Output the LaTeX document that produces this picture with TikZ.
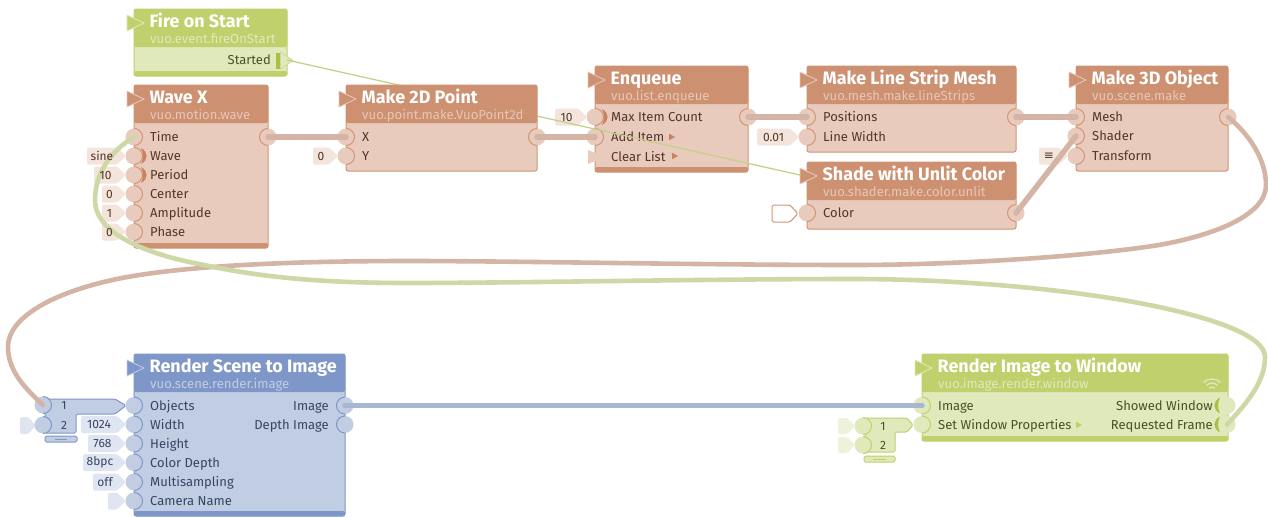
\documentclass[tikz,border=0pt]{standalone}
\usepackage{fontspec}
\setmainfont{Fira Sans}
\newfontfamily\symfont{DejaVu Sans}
\pgfdeclarelayer{front}
\pgfsetlayers{main,front}
\definecolor{brownH}{HTML}{CD9071}\definecolor{brownB}{HTML}{E8CBBC}\definecolor{brownE}{HTML}{D29476}
\definecolor{brownT}{HTML}{553527}\definecolor{brownC}{HTML}{E6C7B6}\definecolor{brownL}{HTML}{F3E4DC}
\definecolor{brownW}{HTML}{D4B4A4}\definecolor{brownD}{HTML}{C9825F}
\definecolor{greenH}{HTML}{C0D06C}\definecolor{greenB}{HTML}{E0E9BB}\definecolor{greenE}{HTML}{BFD06A}
\definecolor{greenT}{HTML}{475225}\definecolor{greenC}{HTML}{E0E9BB}\definecolor{greenL}{HTML}{EDF2DA}
\definecolor{greenW}{HTML}{CDD8A6}\definecolor{greenD}{HTML}{A9C040}
\definecolor{blueH}{HTML}{7F97C8}\definecolor{blueB}{HTML}{C1CDE3}\definecolor{blueE}{HTML}{7F97C8}
\definecolor{blueT}{HTML}{374563}\definecolor{blueC}{HTML}{C1CDE3}\definecolor{blueL}{HTML}{E0E6F1}
\definecolor{blueW}{HTML}{A9B6D2}\definecolor{blueD}{HTML}{7F97C8}
\tikzset{
  vbody/.style={rectangle,rounded corners=2pt,line width=1pt,inner sep=0pt,outer sep=0pt},
  vtitle/.style={anchor=base west,inner sep=0pt,text=white,font=\fontsize{17.95}{18}\selectfont\bfseries},
  vclass/.style={anchor=base west,inner sep=0pt,font=\fontsize{13.1}{14}\selectfont},
  vlabel/.style={inner sep=0pt,font=\fontsize{13}{14}\selectfont},
  vconst/.style={inner sep=0pt,font=\fontsize{12}{12}\selectfont},
  vport/.style={circle,minimum size=17pt,inner sep=0pt,outer sep=0pt},
  wire/.style={line width=5.5pt,line cap=round},
  longwire/.style={line width=4.6pt,line cap=round},
  thinwire/.style={line width=1.2pt,line cap=round},
}
% name x y w h theme title class
\newcommand\vnode[8]{%
  \node[vbody,draw=#6E,fill=#6B,minimum width=#4pt,minimum height=#5pt,anchor=north west] (#1) at (#2,#3) {};
  \fill[#6H,rounded corners=2pt] (#2,{#3+38}) -- (#2,#3) -- ({#2+#4},#3) -- ({#2+#4},{#3+38}) -- cycle;
  \draw[fill=#6H,draw=#6B,line width=.8pt] ({#2-7},{#3+6}) -- ({#2+10},{#3+14}) -- ({#2-7},{#3+22}) -- cycle;
  \node[vtitle] (#1-title) at ({#2+15.5},{#3+18}) {#7};
  \node[vclass,text=#6C] (#1-class) at ({#2+16},{#3+34}) {#8};
}
% name x y w h theme : bottom band
\newcommand\vband[6]{%
  \fill[#6H,rounded corners=2pt] (#2,{#3+#5-5}) -- (#2,{#3+#5}) -- ({#2+#4},{#3+#5}) -- ({#2+#4},{#3+#5-5}) -- cycle;
}
% name x y theme label
\newcommand\inport[5]{%
  \node[vport,fill=#4B] (#1) at (#2,#3) {};
  \draw[#4E,line width=1pt] (#1.south) arc[start angle=-90,end angle=90,radius=8.5pt];
  \node[vlabel,anchor=base west,text=#4T] (#1-label) at ({#2+16},{#3+4.8}) {#5};
}
\newcommand\outport[5]{%
  \node[vport,fill=#4B] (#1) at (#2,#3) {};
  \draw[#4E,line width=1pt] (#1.south) arc[start angle=270,end angle=90,radius=8.5pt];
  \node[vlabel,anchor=base east,text=#4T] (#1-label) at ({#2-16},{#3+4.8}) {#5};
}
% free input port for drawers
\newcommand\drawerport[4]{%
  \node[vport,fill=#4B] (#1) at (#2,#3) {};
  \draw[#4E,line width=1pt] (#1.south) arc[start angle=-90,end angle=90,radius=8.5pt];
}
% name px py theme left value
\newcommand\vconstant[6]{%
  \fill[#4L,rounded corners=1.5pt] (#5,{#3-8.5}) -- ({#2-17},{#3-8.5}) -- ({#2-8},#3) -- ({#2-17},{#3+8.5}) -- (#5,{#3+8.5}) -- cycle;
  \begin{pgfonlayer}{front}
  \node[vconst,text=#4T] (#1-value) at ({(#5+#2-17)/2},#3) {#6};
  \end{pgfonlayer}
}
% crescent: port, colour, dir
\newcommand\crescent[3]{%
  \fill[#2] ([xshift=#3*7pt,yshift=8pt]#1.center) .. controls ([xshift=#3*14.5pt,yshift=4pt]#1.center) and ([xshift=#3*14.5pt,yshift=-4pt]#1.center) .. ([xshift=#3*7pt,yshift=-8pt]#1.center) .. controls ([xshift=#3*9.5pt,yshift=-4pt]#1.center) and ([xshift=#3*9.5pt,yshift=4pt]#1.center) .. cycle;
}
% small event triangle
\newcommand\evtri[3]{\fill[#3] (#1,{#2-3.3}) -- ({#1+6},#2) -- (#1,{#2+3.3}) -- cycle;}
\begin{document}
\begin{tikzpicture}[x=1pt,y=-1pt]
\useasboundingbox (0,0) rectangle (1268,517);
\fill[white] (0,0) rectangle (1268,517);

% ---------- Enqueue, Make Line Strip, Shade, Make 3D (under the thin wire)
\vnode{enq}{595}{66}{153}{106}{brown}{Enqueue}{vuo.list.enqueue}
\vband{enq}{595}{66}{153}{106}{brown}
\vconstant{enqmax}{595}{117}{brown}{555}{10}
\inport{enqmax}{595}{117}{brown}{Max Item Count}
\crescent{enqmax}{brownD}{1}
\inport{enqadd}{595}{137}{brown}{Add Item}
\evtri{669}{137}{brownD}
\fill[brownB] (588,150) -- (605,157) -- (588,164) -- cycle;
\node[vlabel,anchor=base west,text=brownT] (enqclear) at (611,161) {Clear List};
\evtri{672}{156}{brownD}
\outport{enqout}{748}{117}{brown}{}

\vnode{mesh}{807}{66}{209}{86}{brown}{Make Line Strip Mesh}{vuo.mesh.make.lineStrips}
\inport{meshpos}{807}{117}{brown}{Positions}
\vconstant{meshw}{807}{137}{brown}{757}{0.01}
\inport{meshw}{807}{137}{brown}{Line Width}
\outport{meshout}{1016}{117}{brown}{}

\vnode{shade}{807}{162}{209}{67}{brown}{Shade with Unlit Color}{vuo.shader.make.color.unlit}
\draw[brownE,fill=white,line width=1pt,rounded corners=1.5pt] (772,205) -- (790,205) -- (798,213.5) -- (790,222) -- (772,222) -- cycle;
\inport{shadecol}{807}{213}{brown}{Color}
\outport{shadeout}{1016}{213}{brown}{}

\vnode{obj}{1076}{66}{152}{105}{brown}{Make 3D Object}{vuo.scene.make}
\inport{objmesh}{1076}{117}{brown}{Mesh}
\inport{objshader}{1076}{136}{brown}{Shader}
\vconstant{objtrans}{1076}{156}{brown}{1039}{\symfont ≡}
\inport{objtrans}{1076}{156}{brown}{Transform}
\outport{objout}{1228}{117}{brown}{}

% ---------- Fire on Start
\vnode{fire}{134}{9}{153}{67}{green}{Fire on Start}{vuo.event.fireOnStart}
\vband{fire}{134}{9}{153}{67}{green}
\node[vlabel,anchor=base east,text=greenT] (firelabel) at (271,64.5) {Started};
\fill[greenD] (276,53) rectangle (279.5,69);
\draw[fill=greenB,draw=greenW,line width=.8pt] (280.5,52) -- (293,60.5) -- (280.5,69) -- cycle;
\coordinate (started) at (287,60);
\coordinate (shaderefresh) at (800,175);

% thin event wire, then the node that hides it
\draw[thinwire,color=greenW!70!greenD] (started) -- (shaderefresh);

% ---------- Make 2D Point
\vnode{pt}{346}{85}{191}{86}{brown}{Make 2D Point}{vuo.point.make.VuoPoint2d}
\inport{ptx}{346}{137}{brown}{X}
\vconstant{pty}{346}{156}{brown}{313}{0}
\inport{pty}{346}{156}{brown}{Y}
\outport{ptout}{537}{137}{brown}{}
\draw[thinwire,color=greenW!70!greenD,opacity=.12] (started) -- (shaderefresh);

% ---------- Wave X
\vnode{wave}{134}{85}{134}{163}{brown}{Wave X}{vuo.motion.wave}
\vband{wave}{134}{85}{134}{163}{brown}
\inport{wavetime}{134}{137}{brown}{Time}
\vconstant{wavewave}{134}{156}{brown}{87}{sine}
\inport{wavewave}{134}{156}{brown}{Wave}
\crescent{wavewave}{brownD}{1}
\vconstant{waveper}{134}{175}{brown}{94}{10}
\inport{waveper}{134}{175}{brown}{Period}
\crescent{waveper}{brownD}{1}
\vconstant{wavecen}{134}{194}{brown}{102}{0}
\inport{wavecen}{134}{194}{brown}{Center}
\vconstant{waveamp}{134}{213}{brown}{102}{1}
\inport{waveamp}{134}{213}{brown}{Amplitude}
\vconstant{wavepha}{134}{232}{brown}{102}{0}
\inport{wavepha}{134}{232}{brown}{Phase}
\outport{waveout}{268}{137}{brown}{}

% ---------- Render Scene to Image
\vnode{scene}{134}{354}{211}{162}{blue}{Render Scene to Image}{vuo.scene.render.image}
\vband{scene}{134}{354}{211}{162}{blue}
\draw[blueE,fill=blueB,line width=1pt,rounded corners=1.5pt] (45,399) -- (115,399) -- (126,405.5) -- (115,414) -- (76,414) -- (76,433) -- (45,433) -- cycle;
\draw[blueE,fill=blueB,line width=1pt,rounded corners=1.5pt] (45,436) -- (77,436) -- (77,442) -- (45,442) -- cycle;
\draw[blueE,line width=.5pt] (55,439) -- (67,439);
\fill[blueL,rounded corners=1.5pt] (20,417) -- (28,417) -- (36,425.5) -- (28,434) -- (20,434) -- cycle;
\drawerport{scobj1}{43}{405}{blue}
\drawerport{scobj2}{43}{425}{blue}
\node[vconst,text=blueT] (scn1) at (64,405) {1};
\node[vconst,text=blueT] (scn2) at (64,425) {2};
\inport{scobj}{134}{405.5}{blue}{Objects}
\vconstant{scw}{134}{424.5}{blue}{81}{1024}
\inport{scw}{134}{424.5}{blue}{Width}
\vconstant{sch}{134}{443.5}{blue}{88}{768}
\inport{sch}{134}{443.5}{blue}{Height}
\vconstant{scd}{134}{462.5}{blue}{83}{8bpc}
\inport{scd}{134}{462.5}{blue}{Color Depth}
\vconstant{scm}{134}{482}{blue}{93}{off}
\inport{scm}{134}{482}{blue}{Multisampling}
\vconstant{scc}{134}{501}{blue}{108}{}
\inport{scc}{134}{501}{blue}{Camera Name}
\outport{scimg}{345}{405.5}{blue}{Image}
\outport{scdep}{345}{424.5}{blue}{Depth Image}

% ---------- Render Image to Window
\vnode{win}{922}{354}{306}{87}{green}{Render Image to Window}{vuo.image.render.window}
\vband{win}{922}{354}{306}{87}{green}
\draw[greenC,line width=1.3pt] ([xshift=-2.8pt,yshift=2.8pt]1212,391) arc[start angle=135,end angle=45,radius=4pt];
\draw[greenC,line width=1.3pt] ([xshift=-5.7pt,yshift=5.7pt]1212,391) arc[start angle=135,end angle=45,radius=8pt];
\draw[greenC,line width=1.3pt] ([xshift=-8.5pt,yshift=8.5pt]1212,391) arc[start angle=135,end angle=45,radius=12pt];
\fill[greenL,rounded corners=1.5pt] (838,418) -- (847,418) -- (855,426) -- (847,434) -- (838,434) -- cycle;
\fill[greenL,rounded corners=1.5pt] (838,437) -- (847,437) -- (855,445) -- (847,453) -- (838,453) -- cycle;
\draw[greenE,fill=greenB,line width=1pt,rounded corners=1.5pt] (865,418) -- (907,418) -- (913,425) -- (907,432) -- (895,432) -- (895,452) -- (865,452) -- cycle;
\draw[greenE,fill=greenB,line width=1pt,rounded corners=1.5pt] (864,456) -- (895,456) -- (895,462) -- (864,462) -- cycle;
\draw[greenE,line width=.5pt] (873,459) -- (886,459);
\drawerport{wp1}{863}{426}{green}
\drawerport{wp2}{863}{445}{green}
\node[vconst,text=greenT] (wn1) at (883,426) {1};
\node[vconst,text=greenT] (wn2) at (883,445) {2};
\inport{wimg}{922}{405.5}{green}{Image}
\inport{wset}{922}{424.5}{green}{Set Window Properties}
\evtri{1076}{425}{greenH}
\node[vport,fill=greenB] (wshow) at (1227,405.5) {};
\node[vlabel,anchor=base east,text=greenT] (wshowl) at (1213,410.3) {Showed Window};
\crescent{wshow}{greenD}{-1}
\node[vport,fill=greenB] (wreq) at (1227,424.5) {};
\node[vlabel,anchor=base east,text=greenT] (wreql) at (1213,429.3) {Requested Frame};
\crescent{wreq}{greenD}{-1}

% ---------- wires
\draw[wire,color=brownW] (waveout.center) -- (ptx.center);
\draw[wire,color=brownW] (ptout.center) -- (enqadd.center);
\draw[wire,color=brownW] (enqout.center) -- (meshpos.center);
\draw[wire,color=brownW] (meshout.center) -- (objmesh.center);
\draw[wire,color=brownW] (shadeout.center) -- (objshader.center);
\draw[wire,color=blueW] (scimg.center) -- (wimg.center);
\draw[longwire,color=brownW] (objout.center)
  .. controls (1250,135) and (1266,160) .. (1266,185)
  .. controls (1266,215) and (1215,235) .. (1159,245)
  .. controls (1090,256) and (960,265) .. (854,265)
  .. controls (700,265) and (520,261) .. (408,261)
  .. controls (300,261) and (190,265) .. (122,278)
  .. controls (60,290) and (8,315) .. (8,347)
  .. controls (8,372) and (27,390) .. (scobj1.center);
\draw[longwire,color=greenW] (wreq.center)
  .. controls (1250,400) and (1265,380) .. (1265,357)
  .. controls (1265,335) and (1210,318) .. (1159,307)
  .. controls (1080,290) and (960,279) .. (854,279)
  .. controls (700,279) and (520,283) .. (408,283)
  .. controls (320,283) and (260,277) .. (204,265)
  .. controls (150,255) and (95,235) .. (95,200)
  .. controls (95,170) and (115,148) .. (wavetime.center);
\end{tikzpicture}
\end{document}
